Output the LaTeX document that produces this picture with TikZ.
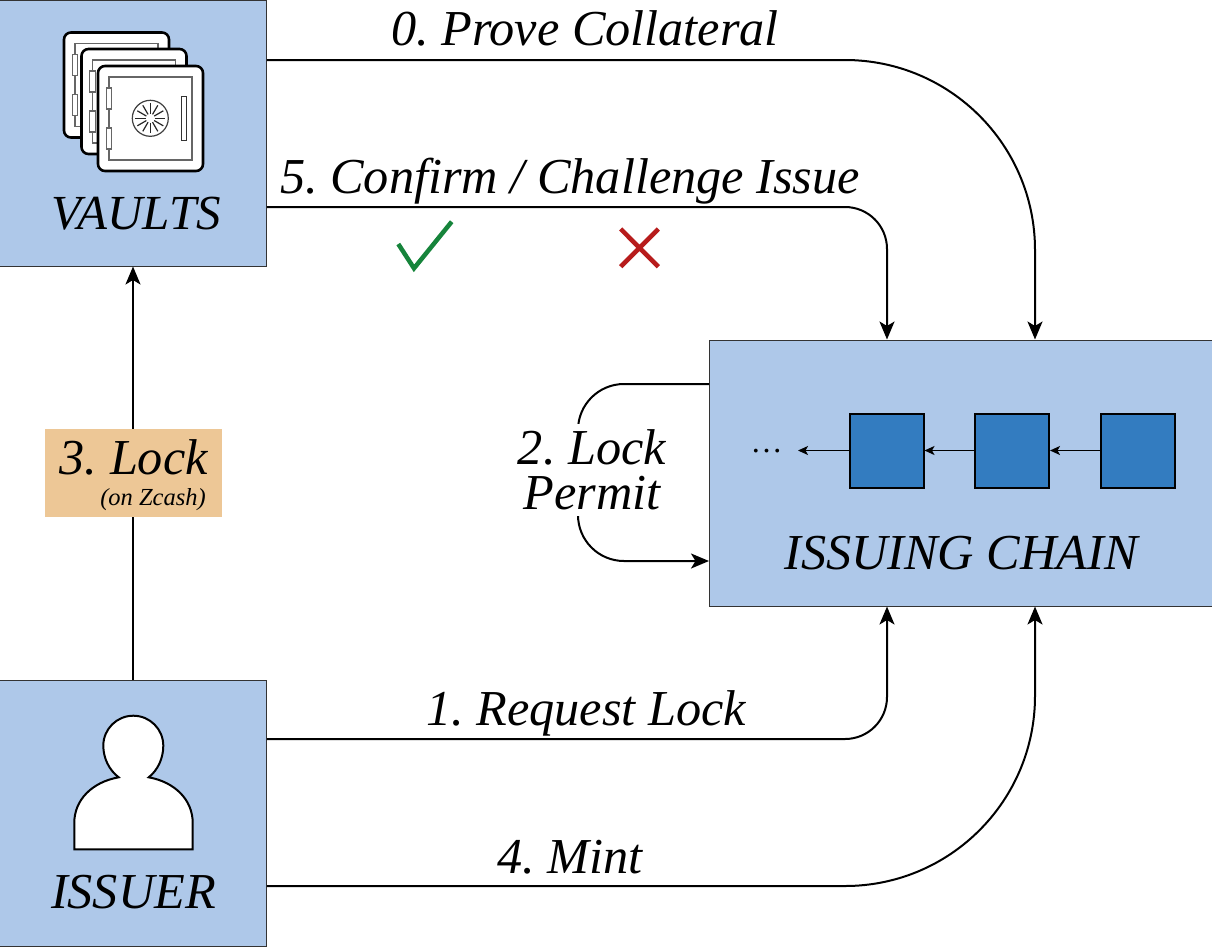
\documentclass[tikz,border=0pt]{standalone}
\usepackage{fontspec}
\setmainfont{Liberation Serif}
\usetikzlibrary{arrows.meta}
\definecolor{boxblue}{HTML}{AEC8E9}
\definecolor{blockblue}{HTML}{337CC0}
\definecolor{lockfill}{HTML}{EDC796}
\definecolor{okgreen}{HTML}{16843B}
\definecolor{badred}{HTML}{B71C1C}
\tikzset{
  actor/.style={draw=black!80,fill=boxblue,line width=1pt,minimum width=266.5pt,minimum height=266pt,inner sep=0pt},
  chainbox/.style={actor,minimum width=503pt},
  blockbox/.style={draw=black,fill=blockblue,line width=2pt,minimum width=74pt,minimum height=74pt,inner sep=0pt},
  lbl/.style={font=\fontsize{50.3}{45}\selectfont\itshape\frenchspacing,anchor=base,inner sep=0pt},
  flow/.style={line width=2pt,-{Stealth[length=18pt,width=15pt,inset=4.5pt]}},
  linkarrow/.style={line width=1.5pt,-{Stealth[length=10pt,width=9pt,inset=2.5pt]}},
  pics/safe/.style={code={
    \draw[fill=white,line width=2.6pt,rounded corners=7pt] (0,0) rectangle (105,105);
    \draw[black!60,line width=1.5pt] (11,11) rectangle (94,94);
    \draw[black!60,fill=white,line width=1.2pt] (8.3,22) rectangle (13.7,43);
    \draw[black!60,fill=white,line width=1.2pt] (8.3,62) rectangle (13.7,83);
    \draw[black!80,line width=1pt] (83,30) rectangle (88.7,74.7);
    \draw[black!75,line width=1.2pt] (52.3,52.3) circle (18);
    \foreach \a in {0,30,...,330}
      \draw[black!85,line width=1.2pt] (52.3,52.3) ++(\a:4.5) -- ++(\a:10.5);
  }}
}
\begin{document}
\begin{tikzpicture}[x=1pt,y=-1pt]
\useasboundingbox (0,0) rectangle (1212,946);
% boxes
\node[actor] (vaults) at (133,133) {};
\node[actor] (issuer) at (133,813) {};
\node[chainbox] (chain) at (961,473) {};
% safes
\pic at (64,32.5) {safe};
\pic at (81.5,49) {safe};
\pic at (98,66) {safe};
% person
\draw[fill=white,line width=2pt] (74.3,849.3) -- (74.3,822.7)
  .. controls (74.3,800) and (92,782) .. (118.7,777.3)
  .. controls (109,770) and (103.3,758) .. (103.3,745.7)
  arc[start angle=180,end angle=360,radius=30]
  .. controls (163.3,758) and (158,770) .. (148.7,777.3)
  .. controls (175,782) and (192.7,800) .. (192.7,822.7)
  -- (192.7,849.3) -- cycle;
% blocks
\node[blockbox] (b1) at (886.5,450.5) {};
\node[blockbox] (b2) at (1012,450.5) {};
\node[blockbox] (b3) at (1138,450.5) {};
\node[font=\fontsize{32}{32}\selectfont,anchor=base,inner sep=0pt] (dots) at (766.5,452) {…};
\coordinate (dotsend) at (798,450.5);
\draw[linkarrow] (b3) -- (b2);
\draw[linkarrow] (b2) -- (b1);
\draw[linkarrow] (b1) -- (dotsend);
% connectors
\draw[flow,rounded corners=190pt] ([yshift=73pt]vaults.east) -| ([xshift=74pt]chain.north);
\draw[flow,rounded corners=42pt] ([yshift=-74pt]vaults.east) -| ([xshift=-74pt]chain.north);
\draw[flow,rounded corners=42pt] ([yshift=74pt]issuer.east) -| ([xshift=-74pt]chain.south);
\draw[flow,rounded corners=190pt] ([yshift=-73pt]issuer.east) -| ([xshift=74pt]chain.south);
\draw[flow] (issuer.north) -- (vaults.south);
\coordinate (loopw) at (578,473);
\draw[flow,rounded corners=46pt] ([yshift=89pt]chain.west) -| (loopw) |- ([yshift=-88pt]chain.west);
% labels on connectors
\node[lbl,anchor=center,align=center,fill=white,minimum width=150pt,minimum height=92pt] (l2) at (592,470) {2. Lock\\Permit};
\node[fill=lockfill,minimum width=177pt,minimum height=88pt,inner sep=0pt] (lockbox) at (133.5,473) {};
\node[lbl,anchor=base east] (l3) at (208,474) {3. Lock};
\node[font=\fontsize{24.5}{24.5}\selectfont\itshape,anchor=base east,inner sep=0pt] (l3b) at (206,505) {(on Zcash)};
\node[lbl] (l0) at (585,45) {0. Prove Collateral};
\node[lbl] (l5) at (570,193) {5. Confirm / Challenge Issue};
\node[lbl] (l1) at (586,725) {1. Request Lock};
\node[lbl] (l4) at (570,873) {4. Mint};
\node[lbl,font=\fontsize{49}{49}\selectfont\itshape] (lv) at (136,229) {VAULTS};
\node[lbl] (li) at (133.5,908) {ISSUER};
\node[lbl] (lc) at (961,569) {ISSUING CHAIN};
% marks
\draw[okgreen,line width=4.5pt] (398.3,244) -- (414,268.3) -- (451.7,221.7);
\draw[badred,line width=4.5pt] (620.7,229) -- (658.3,266.7) (620.7,266.7) -- (658.3,229);
\end{tikzpicture}
\end{document}
